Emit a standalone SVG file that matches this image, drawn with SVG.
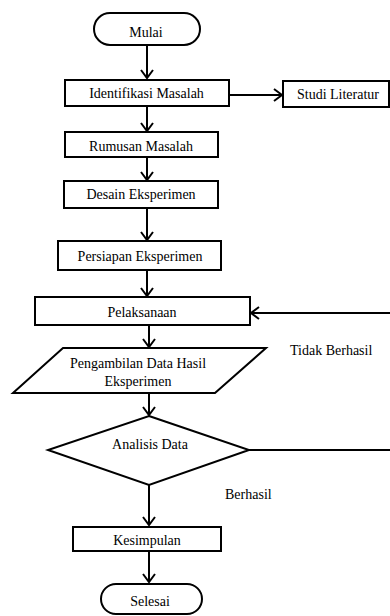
<svg xmlns="http://www.w3.org/2000/svg" width="390" height="616" viewBox="0 0 390 616">
<defs>
<marker id="arr" markerUnits="userSpaceOnUse" markerWidth="16" markerHeight="16" refX="12" refY="8" orient="auto">
<path d="M4,2 L12,8 L4,14" fill="none" stroke="#000" stroke-width="2"/>
</marker>
<style>
.s{fill:#fff;stroke:#000;stroke-width:2}
.t{font-family:"Liberation Serif","DejaVu Serif",serif;font-size:14px;fill:#000;text-anchor:middle}
.l{font-family:"Liberation Serif","DejaVu Serif",serif;font-size:14px;fill:#000}
.c{fill:none;stroke:#000;stroke-width:2}
.a{fill:none;stroke:#000;stroke-width:2;marker-end:url(#arr)}
</style>
</defs>
<rect width="390" height="616" fill="#fff"/>
<g id="connectors">
<line class="a" x1="147" y1="45" x2="147" y2="78"/>
<line class="a" x1="229" y1="95" x2="282" y2="95"/>
<line class="a" x1="147" y1="106" x2="147" y2="131"/>
<line class="a" x1="147" y1="157" x2="147" y2="180"/>
<line class="a" x1="147" y1="208" x2="147" y2="240"/>
<line class="a" x1="147" y1="270" x2="147" y2="296"/>
<line class="a" x1="149" y1="325" x2="149" y2="347"/>
<line class="a" x1="149" y1="393" x2="149" y2="415"/>
<line class="a" x1="149" y1="485" x2="149" y2="525"/>
<line class="a" x1="149" y1="551" x2="149" y2="582"/>
<line class="a" x1="390" y1="313" x2="251" y2="313"/>
<line class="c" x1="249" y1="450" x2="390" y2="450"/>
</g>
<g id="mulai">
<rect class="s" x="94" y="13" width="106" height="32" rx="16"/>
<text class="t" x="146" y="37">Mulai</text>
</g>
<g id="identifikasi">
<rect class="s" x="65" y="80" width="164" height="26"/>
<text class="t" x="146.5" y="98">Identifikasi Masalah</text>
</g>
<g id="studi">
<rect class="s" x="283" y="81" width="106" height="26"/>
<text class="t" x="338" y="99">Studi Literatur</text>
</g>
<g id="rumusan">
<rect class="s" x="65" y="132" width="153" height="25"/>
<text class="t" x="141" y="151">Rumusan  Masalah</text>
</g>
<g id="desain">
<rect class="s" x="64" y="181" width="154" height="27"/>
<text class="t" x="141" y="199">Desain Eksperimen</text>
</g>
<g id="persiapan">
<rect class="s" x="58" y="241" width="163" height="29"/>
<text class="t" x="140" y="261">Persiapan Eksperimen</text>
</g>
<g id="pelaksanaan">
<rect class="s" x="35" y="297" width="215" height="28"/>
<text class="t" x="142" y="317">Pelaksanaan</text>
</g>
<g id="pengambilan">
<polygon class="s" points="63,348 266,348 215,393 13,393"/>
<text class="t" x="138" y="368">Pengambilan Data Hasil</text>
<text class="t" x="138" y="386">Eksperimen</text>
</g>
<g id="analisis">
<polygon class="s" points="149,416 249,450 149,485 48,450"/>
<text class="t" x="150" y="449">Analisis Data</text>
</g>
<g id="kesimpulan">
<rect class="s" x="73" y="527" width="148" height="24"/>
<text class="t" x="147" y="545">Kesimpulan</text>
</g>
<g id="selesai">
<rect class="s" x="101" y="584" width="101" height="30" rx="15"/>
<text class="t" x="150" y="606">Selesai</text>
</g>
<g id="labels">
<text class="l" x="290" y="355">Tidak Berhasil</text>
<text class="l" x="225" y="499">Berhasil</text>
</g>
</svg>
